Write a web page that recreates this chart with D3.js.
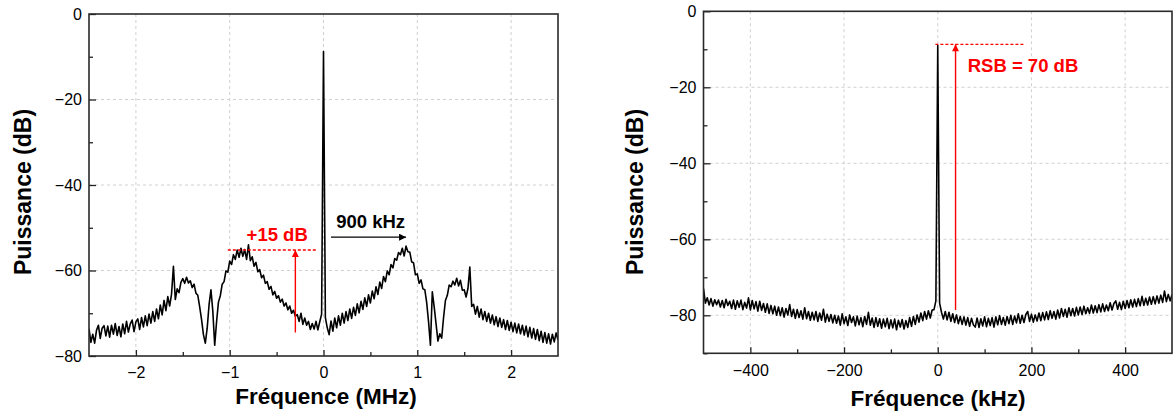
<!DOCTYPE html>
<html>
<head>
<meta charset="utf-8">
<script src="https://cdn.jsdelivr.net/npm/d3@7"></script>
<style>
  html, body { margin: 0; padding: 0; background: #fff; }
  svg { display: block; font-family: "Liberation Sans", Arial, sans-serif; }
</style>
</head>
<body>
<svg id="chart" width="1173" height="418"></svg>
<script>
// ---------------- DATA ----------------
// Left spectrum: frequency grid (MHz) start/step, power (dB)
const leftFreqStart = -2.5;
const leftFreqStep = 0.02;
const leftPower = [
  -73.6,-76.8,-74.9,-77.0,-74.0,-72.8,-75.9,-73.5,-72.9,-75.3,
  -73.0,-75.6,-72.8,-74.9,-72.4,-75.2,-73.1,-75.5,-72.5,-74.8,
  -71.9,-74.4,-72.5,-71.6,-74.3,-72.0,-71.3,-73.8,-71.0,-73.2,
  -70.6,-72.9,-70.2,-72.3,-69.6,-71.9,-69.0,-71.3,-68.1,-70.4,
  -67.0,-69.4,-66.1,-68.3,-65.5,-59.0,-66.8,-64.3,-65.2,-62.8,
  -61.9,-63.0,-61.6,-62.9,-62.4,-64.0,-63.2,-65.3,-65.8,-68.5,
  -71.5,-75.0,-77.0,-73.5,-68.0,-64.5,-69.5,-77.5,-72.0,-67.4,
  -65.9,-63.2,-62.6,-60.1,-60.4,-57.8,-58.6,-56.3,-57.4,-55.2,
  -56.9,-54.8,-56.7,-55.1,-57.4,-54.0,-57.7,-56.8,-59.0,-58.1,
  -60.3,-59.8,-61.7,-61.1,-63.0,-62.6,-64.4,-63.7,-65.7,-64.9,
  -66.5,-65.9,-67.4,-66.7,-68.3,-67.6,-69.2,-68.3,-70.0,-69.3,
  -70.7,-70.3,-71.9,-70.0,-72.6,-71.1,-72.8,-71.9,-73.8,-72.4,
  -73.7,-71.9,-73.9,-72.0,-70.2,-8.8,-71.0,-73.4,-75.0,-71.8,
  -74.2,-71.1,-73.4,-70.6,-72.8,-70.0,-72.3,-69.6,-71.7,-69.0,
  -71.2,-68.6,-70.5,-67.8,-69.9,-67.2,-69.1,-66.4,-68.4,-65.7,
  -67.6,-64.8,-66.6,-63.8,-65.6,-62.7,-64.2,-61.4,-62.6,-60.1,
  -61.0,-58.6,-59.4,-57.2,-57.6,-55.8,-56.3,-54.8,-56.6,-54.3,
  -55.6,-55.7,-58.0,-58.2,-61.0,-60.8,-63.0,-62.2,-64.3,-64.5,
  -67.5,-72.0,-77.5,-65.0,-68.5,-72.5,-76.5,-74.8,-75.8,-71.0,
  -67.0,-65.8,-63.4,-63.8,-62.5,-63.4,-61.8,-63.6,-62.3,-64.6,
  -64.5,-66.2,-64.2,-59.2,-68.4,-67.9,-70.2,-68.4,-70.9,-69.0,
  -71.5,-69.6,-71.9,-70.0,-72.3,-70.4,-72.7,-70.8,-73.1,-71.1,
  -73.3,-71.5,-73.8,-71.7,-74.0,-72.1,-74.3,-72.3,-74.6,-72.5,
  -74.8,-72.8,-75.1,-73.0,-75.5,-73.3,-75.8,-73.6,-76.1,-73.8,
  -76.4,-74.2,-76.8,-74.5,-77.0,-74.8,-77.2,-74.9,-76.7,-74.6,
  -76.2
];

// Right spectrum: frequency grid (kHz) start/step, power (dB)
const rightFreqStart = -500;
const rightFreqStep = 4;
const rightPower = [
  -73.0,-76.8,-75.4,-77.3,-75.6,-77.6,-75.9,-77.2,-76.0,-77.8,
  -76.1,-78.0,-75.8,-77.4,-76.3,-78.2,-76.0,-78.4,-76.2,-77.9,
  -76.0,-78.5,-76.6,-78.1,-75.4,-78.6,-76.1,-78.3,-76.4,-78.9,
  -76.3,-78.7,-76.9,-79.2,-77.0,-79.5,-77.4,-79.6,-77.6,-80.0,
  -77.8,-80.1,-78.0,-80.5,-78.2,-79.9,-77.2,-80.3,-78.4,-80.8,
  -78.5,-80.6,-78.8,-81.0,-78.0,-80.9,-79.0,-81.3,-79.2,-81.2,
  -79.0,-81.6,-79.4,-81.3,-78.4,-81.8,-79.7,-81.6,-79.8,-82.0,
  -80.0,-82.1,-80.2,-82.6,-79.6,-82.2,-80.4,-82.7,-79.9,-81.9,
  -80.4,-82.8,-80.2,-82.5,-80.6,-83.0,-80.3,-82.4,-79.2,-82.6,
  -80.7,-83.2,-80.6,-82.9,-80.9,-83.4,-81.0,-83.0,-80.8,-83.5,
  -81.2,-83.3,-81.0,-83.8,-81.3,-83.1,-81.1,-83.6,-81.4,-83.2,
  -80.6,-82.9,-80.3,-82.4,-79.9,-81.8,-79.4,-81.4,-79.0,-81.0,
  -78.8,-80.7,-78.6,-78.5,-76.2,-9.0,-76.8,-79.2,-81.0,-79.0,
  -81.2,-79.2,-81.6,-79.6,-81.9,-79.9,-82.2,-80.3,-82.4,-80.4,
  -82.6,-80.6,-82.9,-80.8,-82.5,-83.1,-80.7,-83.2,-80.9,-82.8,
  -80.4,-83.0,-80.8,-82.7,-80.6,-83.1,-80.4,-82.5,-80.1,-82.4,
  -80.6,-82.6,-80.3,-82.2,-80.0,-82.4,-80.2,-82.0,-79.6,-82.1,
  -80.0,-81.9,-79.8,-79.0,-81.6,-79.7,-81.8,-79.9,-81.5,-79.4,
  -81.4,-79.3,-81.2,-79.1,-81.1,-78.8,-80.8,-79.0,-81.0,-78.6,
  -80.7,-78.2,-80.3,-78.4,-80.5,-78.0,-80.1,-78.2,-80.2,-77.9,
  -79.9,-77.8,-79.8,-77.6,-79.6,-78.0,-79.5,-77.3,-79.4,-77.5,
  -79.3,-77.2,-79.1,-77.0,-79.0,-77.3,-78.8,-76.7,-78.6,-76.9,
  -76.2,-78.4,-76.6,-78.5,-76.3,-78.2,-76.1,-78.0,-75.9,-77.8,
  -75.8,-77.7,-75.6,-77.5,-75.0,-77.4,-75.5,-77.3,-75.2,-77.1,
  -75.1,-77.0,-74.9,-76.8,-74.7,-76.6,-73.6,-76.4,-74.5,-76.2,
  -74.6
];

// Axis ticks
const leftXDomain = [-2.5, 2.5];
const leftYDomain = [-80, 0];
const leftXTicks = [-2, -1, 0, 1, 2];
const leftXMinor = [-1.5, -0.5, 0.5, 1.5];
const leftYTicks = [0, -20, -40, -60, -80];
const leftYMinor = [-10, -30, -50, -70];

const rightXDomain = [-500, 500];
const rightYDomain = [-90, 0];
const rightXTicks = [-400, -200, 0, 200, 400];
const rightXMinor = [-300, -100, 100, 300];
const rightYTicks = [0, -20, -40, -60, -80];
const rightYMinor = [-10, -30, -50, -70, -90];

// Annotations (data units)
const leftRefLevel = -55.2;
const leftRefSpan = [-1.02, -0.07];
const leftArrowX = -0.3;
const leftArrowFrom = -74.5;
const leftGainLabel = "+15 dB";
const leftGainLabelPos = [-0.82, -53.0];
const leftShiftArrow = [0.08, 0.88, -52.2];
const leftShiftLabel = "900 kHz";
const leftShiftLabelPos = [0.135, -50.1];

const rightRefLevel = -8.7;
const rightRefSpan = [-5, 185];
const rightArrowX = 38;
const rightArrowFrom = -78.6;
const rightSnrLabel = "RSB = 70 dB";
const rightSnrLabelPos = [64, -15.9];

// ---------------- DRAW ----------------
const svg = d3.select("#chart");
const defs = svg.append("defs");
function marker(id, color) {
  defs.append("marker")
    .attr("id", id).attr("viewBox", "0 0 10 10")
    .attr("refX", 10).attr("refY", 5)
    .attr("markerWidth", 9).attr("markerHeight", 7)
    .attr("markerUnits", "userSpaceOnUse")
    .attr("orient", "auto")
    .append("path").attr("d", "M0,0 L10,5 L0,10 Z").attr("fill", color);
}
marker("arrRed", "#ff0000");
marker("arrBlack", "#000");

const fmt = d => (d < 0 ? "\u2212" + Math.abs(d) : String(d));

function panel(cfg) {
  const x = d3.scaleLinear().domain(cfg.xDomain).range([cfg.x0, cfg.x1]);
  const y = d3.scaleLinear().domain(cfg.yDomain).range([cfg.y1, cfg.y0]);
  const g = svg.append("g");

  // grid
  const gridX = cfg.xTicks.filter(v => v > cfg.xDomain[0] && v < cfg.xDomain[1]);
  const gridY = cfg.yTicks.filter(v => v > cfg.yDomain[0] && v < cfg.yDomain[1]);
  g.append("g").selectAll("line").data(gridX).join("line")
    .attr("x1", d => x(d)).attr("x2", d => x(d))
    .attr("y1", cfg.y0).attr("y2", cfg.y1)
    .attr("stroke", "#d0d0d0").attr("stroke-width", 1).attr("stroke-dasharray", "3,3");
  g.append("g").selectAll("line").data(gridY).join("line")
    .attr("y1", d => y(d)).attr("y2", d => y(d))
    .attr("x1", cfg.x0).attr("x2", cfg.x1)
    .attr("stroke", "#d0d0d0").attr("stroke-width", 1).attr("stroke-dasharray", "3,3");

  // clip
  const cid = "clip" + cfg.id;
  defs.append("clipPath").attr("id", cid).append("rect")
    .attr("x", cfg.x0).attr("y", cfg.y0)
    .attr("width", cfg.x1 - cfg.x0).attr("height", cfg.y1 - cfg.y0);

  // data
  const pts = cfg.power.map((p, i) => [cfg.fStart + i * cfg.fStep, p]);
  g.append("path").datum(pts)
    .attr("clip-path", `url(#${cid})`)
    .attr("fill", "none").attr("stroke", "#000").attr("stroke-width", 1.6)
    .attr("stroke-linejoin", "round")
    .attr("d", d3.line().x(d => x(d[0])).y(d => y(d[1])));

  // axes
  const ax = g.append("g").attr("transform", `translate(0,${cfg.y1})`)
    .call(d3.axisBottom(x).tickValues(cfg.xTicks).tickFormat(fmt)
      .tickSizeInner(-6).tickSizeOuter(0).tickPadding(cfg.xPad));
  const axm = g.append("g").attr("transform", `translate(0,${cfg.y1})`)
    .call(d3.axisBottom(x).tickValues(cfg.xMinor).tickFormat("")
      .tickSizeInner(-4).tickSizeOuter(0));
  const ay = g.append("g").attr("transform", `translate(${cfg.x0},0)`)
    .call(d3.axisLeft(y).tickValues(cfg.yTicks).tickFormat(fmt)
      .tickSizeInner(-7).tickSizeOuter(0).tickPadding(7));
  const aym = g.append("g").attr("transform", `translate(${cfg.x0},0)`)
    .call(d3.axisLeft(y).tickValues(cfg.yMinor).tickFormat("")
      .tickSizeInner(-4).tickSizeOuter(0));
  [ax, axm, ay, aym].forEach(a => {
    a.select(".domain").remove();
    a.selectAll(".tick line").attr("stroke", "#222").attr("stroke-width", 1.3);
    a.selectAll(".tick text").attr("fill", "#000")
      .style("font-size", "16px").style("font-family", "'Liberation Sans', Arial, sans-serif");
  });

  // frame
  g.append("rect")
    .attr("x", cfg.x0).attr("y", cfg.y0)
    .attr("width", cfg.x1 - cfg.x0).attr("height", cfg.y1 - cfg.y0)
    .attr("fill", "none").attr("stroke", "#2a2a2a").attr("stroke-width", 1.6);

  // titles
  g.append("text").text(cfg.xTitle)
    .attr("x", cfg.xTitleX).attr("y", cfg.xTitleY)
    .attr("text-anchor", "middle").attr("font-weight", "bold")
    .style("font-size", "22.5px").attr("fill", "#000");
  g.append("text").text("Puissance (dB)")
    .attr("transform", `translate(${cfg.yTitleX},192) rotate(-90)`)
    .attr("text-anchor", "middle").attr("font-weight", "bold")
    .style("font-size", "23px").attr("fill", "#000");

  return { x, y, g };
}

const L = panel({
  id: "L", x0: 89, x1: 558, y0: 14, y1: 356,
  xDomain: leftXDomain, yDomain: leftYDomain,
  xTicks: leftXTicks, xMinor: leftXMinor, yTicks: leftYTicks, yMinor: leftYMinor,
  power: leftPower, fStart: leftFreqStart, fStep: leftFreqStep,
  xPad: 11, xTitle: "Fréquence (MHz)", xTitleX: 326, xTitleY: 403.5, yTitleX: 31
});

const R = panel({
  id: "R", x0: 703.5, x1: 1172, y0: 11.3, y1: 353.3,
  xDomain: rightXDomain, yDomain: rightYDomain,
  xTicks: rightXTicks, xMinor: rightXMinor, yTicks: rightYTicks, yMinor: rightYMinor,
  power: rightPower, fStart: rightFreqStart, fStep: rightFreqStep,
  xPad: 11, xTitle: "Fréquence (kHz)", xTitleX: 938, xTitleY: 406, yTitleX: 643
});

// Left annotations
L.g.append("line")
  .attr("x1", L.x(leftRefSpan[0])).attr("x2", L.x(leftRefSpan[1]))
  .attr("y1", L.y(leftRefLevel)).attr("y2", L.y(leftRefLevel))
  .attr("stroke", "#ff0000").attr("stroke-width", 1.4).attr("stroke-dasharray", "3,2");
L.g.append("line")
  .attr("x1", L.x(leftArrowX)).attr("x2", L.x(leftArrowX))
  .attr("y1", L.y(leftArrowFrom)).attr("y2", L.y(leftRefLevel))
  .attr("stroke", "#ff0000").attr("stroke-width", 1.4).attr("marker-end", "url(#arrRed)");
L.g.append("text").text(leftGainLabel)
  .attr("x", L.x(leftGainLabelPos[0])).attr("y", L.y(leftGainLabelPos[1]))
  .attr("fill", "#ff0000").attr("font-weight", "bold").style("font-size", "18.5px");
L.g.append("line")
  .attr("x1", L.x(leftShiftArrow[0])).attr("x2", L.x(leftShiftArrow[1]))
  .attr("y1", L.y(leftShiftArrow[2])).attr("y2", L.y(leftShiftArrow[2]))
  .attr("stroke", "#000").attr("stroke-width", 1.4).attr("marker-end", "url(#arrBlack)");
L.g.append("text").text(leftShiftLabel)
  .attr("x", L.x(leftShiftLabelPos[0])).attr("y", L.y(leftShiftLabelPos[1]))
  .attr("fill", "#000").attr("font-weight", "bold").style("font-size", "18.5px");

// Right annotations
R.g.append("line")
  .attr("x1", R.x(rightRefSpan[0])).attr("x2", R.x(rightRefSpan[1]))
  .attr("y1", R.y(rightRefLevel)).attr("y2", R.y(rightRefLevel))
  .attr("stroke", "#ff0000").attr("stroke-width", 1.4).attr("stroke-dasharray", "3,2");
R.g.append("line")
  .attr("x1", R.x(rightArrowX)).attr("x2", R.x(rightArrowX))
  .attr("y1", R.y(rightArrowFrom)).attr("y2", R.y(rightRefLevel))
  .attr("stroke", "#ff0000").attr("stroke-width", 1.4).attr("marker-end", "url(#arrRed)");
R.g.append("text").text(rightSnrLabel)
  .attr("x", R.x(rightSnrLabelPos[0])).attr("y", R.y(rightSnrLabelPos[1]))
  .attr("fill", "#ff0000").attr("font-weight", "bold").style("font-size", "18.5px");
</script>
</body>
</html>
